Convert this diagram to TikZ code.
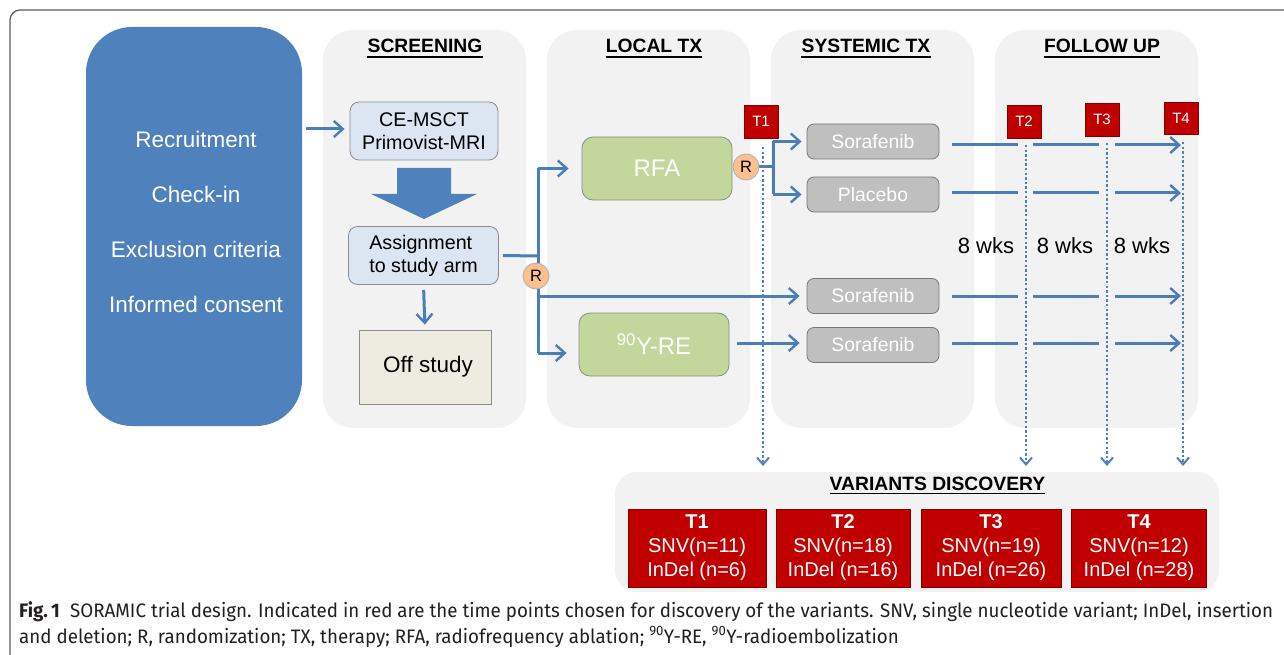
\documentclass[tikz,border=0pt]{standalone}
\usepackage{fontspec}
\setmainfont{Liberation Sans}
\newfontfamily\capfont{Fira Sans}
\usetikzlibrary{arrows.meta,calc}
\definecolor{bluebox}{HTML}{4F81BD}
\definecolor{linec}{HTML}{4A7EBB}
\definecolor{dotc}{HTML}{4F81BD}
\definecolor{panelc}{HTML}{F2F2F2}
\definecolor{redc}{HTML}{C00000}
\definecolor{greenc}{HTML}{C3D69B}
\definecolor{lbluec}{HTML}{DCE6F2}
\definecolor{offc}{HTML}{EEECE1}
\definecolor{grayc}{HTML}{BFBFBF}
\definecolor{rcirc}{HTML}{FAC090}
\definecolor{edgec}{HTML}{8C8C8C}
\definecolor{framec}{HTML}{5A5A5A}
\definecolor{capc}{HTML}{231F20}
\newcommand{\fs}[2]{\fontsize{#1}{#2}\selectfont}
\newlength\capw
\newcommand\capone{{\bfseries Fig.\,1}\hspace{0.55em}SORAMIC trial design. Indicated in red are the time points chosen for discovery of the variants. SNV, single nucleotide variant; InDel, insertion}
\newcommand\captwo{and deletion; R, randomization; TX, therapy; RFA, radiofrequency ablation; \textsuperscript{90}Y-RE, \textsuperscript{90}Y-radioembolization}
\pgfdeclarelayer{bg}
\pgfdeclarelayer{lines}
\pgfsetlayers{bg,lines,main}
\begin{document}
\settowidth{\capw}{\capfont\fs{19.5}{23}\capone}%
\pgfmathsetmacro{\capsx}{1254/\capw}%
\begin{tikzpicture}[x=1pt,y=-1pt,
  bl/.style={draw=linec, line width=3pt},
  arr/.style={bl, -{Straight Barb[length=9pt,width=16pt,line width=2.4pt]}},
  dots/.style={draw=dotc, line width=2.6pt, dash pattern=on 2.4pt off 2.2pt, -{Straight Barb[length=7pt,width=12pt,line width=2pt]}},
  panel/.style={fill=panelc, rounded corners=30pt, minimum width=203pt, minimum height=398pt, inner sep=0pt},
  ttl/.style={font=\fs{19.3}{23}\bfseries, inner sep=0pt, anchor=base},
  lbox/.style={draw=edgec, fill=lbluec, rounded corners=9pt, line width=0.8pt, inner sep=0pt, font=\fs{19.7}{23}, align=center},
  gbox/.style={draw=edgec, fill=greenc, rounded corners=11pt, line width=0.8pt, minimum width=150pt, minimum height=63pt, text=white, font=\fs{24}{28}, inner sep=0pt},
  sbox/.style={draw=edgec!85!black, fill=grayc, rounded corners=7pt, line width=0.8pt, minimum width=132pt, minimum height=35pt, text=white, font=\fs{19.4}{23}, inner sep=0pt},
  rc/.style={circle, draw=edgec!70, fill=rcirc, line width=0.8pt, minimum size=26pt, inner sep=0pt, font=\fs{16.5}{18}},
  tm/.style={fill=redc, draw=redc!70!black, line width=0.6pt, minimum width=34pt, minimum height=33pt, inner sep=0pt, text=white, font=\fs{15}{16}},
  vbox/.style={fill=redc, draw=redc!70!black, line width=0.6pt, minimum height=78pt, inner sep=0pt, text=white, align=center, font=\fs{20}{24}},
  wk/.style={font=\fs{22}{26}, inner sep=0pt}
]
\useasboundingbox (0,0) rectangle (1284,655);
\begin{pgfonlayer}{bg}
\fill[white] (0,0) rectangle (1284,655);
\draw[framec, line width=1.2pt, rounded corners=10pt] (10,700) -- (10,10) -- (1320,10);
\node[panel] (pscr) at (424.5,229) {};
\node[panel] (ploc) at (648.5,229) {};
\node[panel] (psys) at (872.5,229) {};
\node[panel] (pfol) at (1096.5,229) {};
\node[fill=panelc, rounded corners=22pt, minimum width=604pt, minimum height=120pt, inner sep=0pt] (pvar) at (917,532) {};
\end{pgfonlayer}

% left blue block
\node[fill=bluebox, rounded corners=46pt, minimum width=216pt, minimum height=399pt, inner sep=0pt] (blue) at (194,226.5) {};
\node[text=white, align=center, font=\fs{22.5}{54.7}, inner sep=0pt] (bluetxt) at (196,222) {Recruitment\\Check-in\\Exclusion criteria\\Informed consent};

% panel titles
\foreach \nm/\x/\t in {tscr/425/SCREENING, tloc/654/LOCAL TX, tsys/866/SYSTEMIC TX, tfol/1102/FOLLOW UP}{
  \node[ttl] (\nm) at (\x,53) {\t};
  \draw[line width=1.9pt] ([yshift=-4pt]\nm.base west) -- ([yshift=-4pt]\nm.base east);
}
\node[ttl] (tvar) at (937.5,490) {VARIANTS DISCOVERY};
\draw[line width=1.9pt] ([yshift=-3.5pt]tvar.base west) -- ([yshift=-3.5pt]tvar.base east);

% screening
\node[lbox, minimum width=148pt, minimum height=58pt] (ce) at (424,131) {CE-MSCT\\Primovist-MRI};
\fill[bluebox] (397,168) -- (451,168) -- (451,194) -- (477,194) -- (424,219) -- (371,194) -- (397,194) -- cycle;
\node[lbox, minimum width=150pt, minimum height=58pt, align=left] (assign) at (423.5,255.5) {Assignment\\to study arm};
\node[draw=edgec, fill=offc, line width=0.8pt, minimum width=132pt, minimum height=74pt, inner sep=0pt, font=\fs{22.5}{26}] (off) at (425,367) {\hspace{6pt}Off study};

% local tx
\node[gbox] (rfa) at (657,168.5) {RFA};
\node[gbox] (y90) at (654,344.5) {\textsuperscript{90}Y-RE};
\node[rc] (r1) at (536,276) {R};
\node[rc] (r2) at (746,167) {R};

% systemic
\node[sbox] (s1) at (873,141.5) {Sorafenib};
\node[sbox] (pl) at (873,194.5) {Placebo};
\node[sbox] (s2) at (873,296) {Sorafenib};
\node[sbox] (s3) at (873,345) {Sorafenib};

% time markers
\node[tm] (t1) at (761,121.5) {T1};
\node[tm] (t2) at (1024,121.5) {T2};
\node[tm] (t3) at (1102,119.5) {T3};
\node[tm, minimum height=32pt] (t4) at (1181,118) {T4};

\node[wk] (w1) at (986,246) {8 wks};
\node[wk] (w2) at (1065,246) {8 wks};
\node[wk] (w3) at (1142,246) {8 wks};

% variants discovery boxes
\node[vbox, minimum width=138pt] (v1) at (697,548) {\textbf{T1}\\SNV(n=11)\\InDel (n=6)};
\node[vbox, minimum width=134pt] (v2) at (843,548) {\textbf{T2}\\SNV(n=18)\\InDel (n=16)};
\node[vbox, minimum width=140pt] (v3) at (991,548) {\textbf{T3}\\SNV(n=19)\\InDel (n=26)};
\node[vbox, minimum width=135pt] (v4) at (1139,548) {\textbf{T4}\\SNV(n=12)\\InDel (n=28)};

% coordinates
\coordinate (bj) at (538,256);
\coordinate (btop) at (538,168.5);
\coordinate (bbot) at (538,353);
\coordinate (bmid) at (538,296);
\coordinate (r2j) at (773,167);
\coordinate (r2t) at (773,141.5);
\coordinate (r2b) at (773,194.5);
\coordinate (y90o) at (737,343);
\coordinate (d1s) at (763,147);  \coordinate (d1e) at (763,466);
\coordinate (d2s) at (1026,145); \coordinate (d2e) at (1026,466);
\coordinate (d3s) at (1107,143); \coordinate (d3e) at (1107,466);
\coordinate (d4s) at (1183,142); \coordinate (d4e) at (1183,466);

\begin{pgfonlayer}{lines}
\draw[arr, shorten <=4pt, shorten >=5pt] (blue.east |- 0,129) -- (ce.west |- 0,129);
\draw[arr, shorten <=5pt, shorten >=5pt] (assign.south) -- (off.north);
\draw[bl] ([xshift=4pt]assign.east) -- (bj);
\draw[bl] (btop) -- (bbot);
\draw[arr, shorten >=13pt] (btop) -- (rfa.west);
\draw[arr, shorten >=12pt] (bbot) -- (bbot -| y90.west);
\draw[arr, shorten >=7pt] (bmid) -- (s2.west);
\draw[bl] (r2.center) -- (r2j);
\draw[bl] (r2t) -- (r2b);
\draw[arr, shorten >=5pt] (r2t) -- (s1.west);
\draw[arr, shorten >=5pt] (r2b) -- (pl.west);
\draw[arr, shorten >=7pt] (y90o) -- (y90o -| s3.west);
\foreach \y [count=\i] in {145,193,296,343}{
  \coordinate (fa\i) at (952,\y);  \coordinate (fb\i) at (1018,\y);
  \coordinate (fc\i) at (1033,\y); \coordinate (fd\i) at (1099,\y);
  \coordinate (fe\i) at (1115,\y); \coordinate (ff\i) at (1181,\y);
  \draw[bl] (fa\i) -- (fb\i);
  \draw[bl] (fc\i) -- (fd\i);
  \draw[arr] (fe\i) -- (ff\i);
}
\draw[dots] (d1s) -- (d1e);
\draw[dots] (d2s) -- (d2e);
\draw[dots] (d3s) -- (d3e);
\draw[dots] (d4s) -- (d4e);
\end{pgfonlayer}

% caption
\node[anchor=base west, inner sep=0pt, text=capc] (cap1) at (19,617) {\scalebox{\capsx}[1]{\capfont\fs{19.5}{23}\capone}};
\node[anchor=base west, inner sep=0pt, text=capc] (cap2) at (19,643) {\scalebox{\capsx}[1]{\capfont\fs{19.5}{23}\captwo}};
\end{tikzpicture}
\end{document}
